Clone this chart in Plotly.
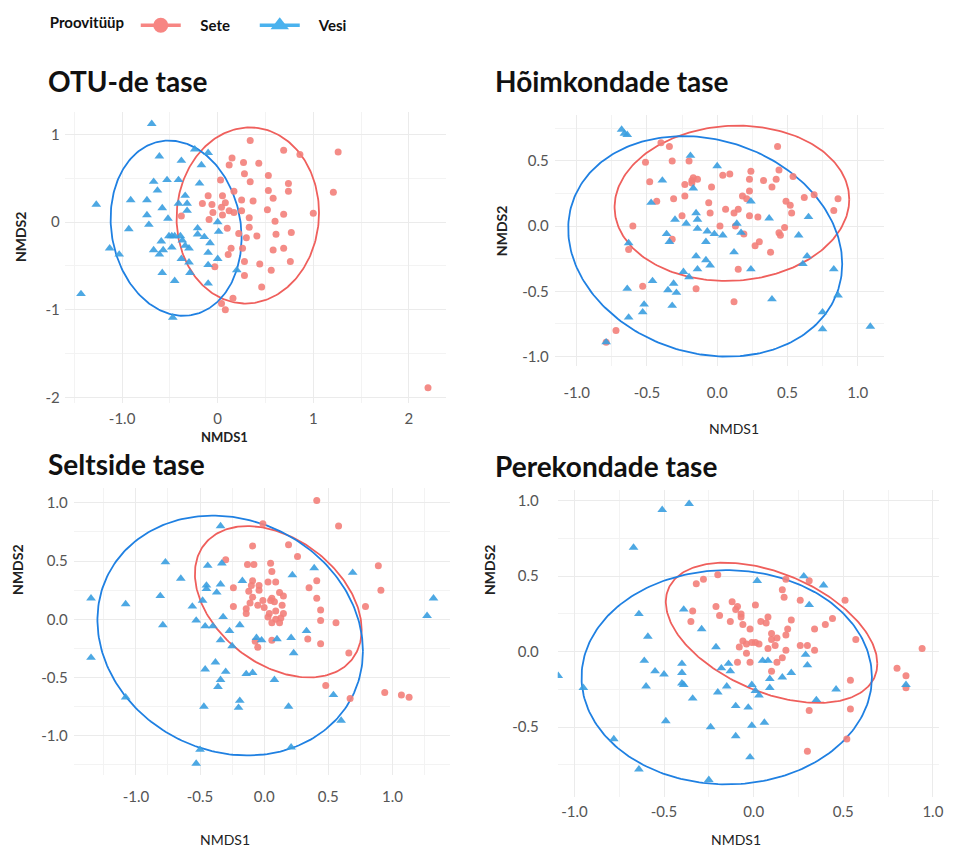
import numpy as np
import plotly.graph_objects as go

W, H = 979, 850
FONT = "Lato"

SETE_POINT = "#F37F7A"
SETE_LINE = "#EF5F5C"
VESI_POINT = "#3A9EE0"
VESI_LINE = "#1F80E2"
SETE_KEY = "#F78683"
VESI_KEY = "#4AB2EE"

# ---------------- NMDS scores (NMDS1, NMDS2) ----------------
# OTU level
otu_sete = [
    (0.34, 0.93), (0.69, 0.82), (0.86, 0.77), (1.26, 0.80), (1.21, 0.34), (1.00, 0.10),
    (0.15, 0.73), (0.12, 0.65), (0.27, 0.68), (0.43, 0.67), (0.28, 0.55), (0.53, 0.53),
    (0.03, 0.48), (0.34, 0.46), (0.74, 0.44), (0.17, 0.35), (0.53, 0.36), (0.74, 0.35),
    (-0.10, 0.30), (0.05, 0.30), (0.58, 0.27), (-0.16, 0.21), (-0.06, 0.20), (0.08, 0.22),
    (0.25, 0.25), (0.37, 0.24), (0.04, 0.17), (0.12, 0.13), (0.25, 0.13), (0.52, 0.14),
    (-0.05, 0.11), (0.05, 0.08), (0.17, 0.11), (0.69, 0.09), (-0.38, 0.07), (-0.09, 0.03),
    (0.33, 0.05), (0.60, 0.01), (0.10, -0.07), (0.33, -0.06), (0.22, -0.13), (0.41, -0.16),
    (0.61, -0.14), (0.77, -0.12), (0.30, -0.18), (0.14, -0.30), (0.26, -0.30), (0.58, -0.32),
    (0.69, -0.30), (0.11, -0.37), (0.28, -0.45), (0.44, -0.48), (0.76, -0.45), (-0.03, -0.51),
    (0.56, -0.55), (0.28, -0.61), (0.46, -0.74), (0.16, -0.87), (0.04, -0.93), (0.08, -1.00),
    (2.20, -1.89),
]
otu_vesi = [
    (-0.69, 1.12), (-1.27, 0.20), (-1.43, -0.82), (-1.13, -0.30), (-1.03, -0.37), (-0.93, -0.08),
    (-0.91, 0.25), (-0.74, 0.25), (-0.74, 0.08), (-0.72, -0.03), (-0.67, 0.46), (-0.61, 0.75),
    (-0.63, 0.36), (-0.58, 0.16), (-0.52, 0.04), (-0.53, 0.48), (-0.67, -0.32), (-0.61, -0.37),
    (-0.59, -0.22), (-0.57, -0.32), (-0.58, -0.58), (-0.51, -0.16), (-0.48, -0.16), (-0.48, -0.29),
    (-0.45, -0.16), (-0.45, -0.67), (-0.47, -1.09), (-0.41, 0.48), (-0.38, 0.70), (-0.41, 0.21),
    (-0.39, -0.16), (-0.37, -0.21), (-0.38, -0.42), (-0.34, 0.30), (-0.32, 0.21), (-0.32, 0.13),
    (-0.34, -0.27), (-0.30, -0.30), (-0.30, -0.46), (-0.29, -0.58), (-0.24, 0.83), (-0.21, -0.07),
    (-0.21, -0.14), (-0.19, 0.44), (-0.17, 0.65), (-0.14, -0.17), (-0.10, 0.79), (-0.10, -0.35),
    (-0.10, -0.49), (-0.10, -0.70), (-0.08, -0.24), (0.00, 0.00), (0.01, -0.11), (0.00, -0.42),
    (0.20, -0.55),
]

# Phylum level
phylum_sete = [
    (-0.40, 0.64), (-0.34, 0.61), (-0.51, 0.49), (-0.32, 0.50), (-0.20, 0.50), (0.43, 0.61),
    (0.04, 0.39), (0.09, 0.40), (0.24, 0.42), (0.44, 0.43), (0.54, 0.38), (-0.48, 0.34),
    (-0.23, 0.32), (-0.18, 0.35), (-0.17, 0.37), (-0.14, 0.36), (-0.18, 0.33), (-0.04, 0.30),
    (0.23, 0.36), (0.33, 0.35), (0.42, 0.36), (0.39, 0.30), (0.23, 0.27), (-0.23, 0.23),
    (-0.31, 0.21), (-0.43, 0.19), (0.18, 0.23), (0.21, 0.21), (0.62, 0.22), (0.69, 0.24),
    (0.86, 0.21), (-0.06, 0.18), (0.49, 0.19), (0.52, 0.16), (0.83, 0.12), (0.06, 0.13),
    (0.15, 0.13), (0.12, 0.10), (-0.05, 0.10), (0.53, 0.10), (-0.25, 0.08), (0.23, 0.08),
    (0.29, 0.07), (-0.60, 0.00), (0.02, 0.00), (0.13, 0.00), (0.19, -0.06), (0.48, -0.01),
    (0.44, -0.05), (0.45, -0.07), (-0.32, -0.10), (0.30, -0.12), (0.27, -0.15), (0.38, -0.20),
    (-0.63, -0.18), (0.15, -0.33), (-0.53, -0.46), (-0.15, -0.48), (0.12, -0.58), (-0.72, -0.80),
    (-0.79, -0.89),
]
phylum_vesi = [
    (-0.68, 0.74), (-0.66, 0.71), (-0.64, 0.70), (-0.19, 0.54), (0.00, 0.46), (-0.39, 0.35),
    (-0.17, 0.29), (-0.47, 0.18), (0.24, 0.19), (-0.15, 0.10), (-0.30, 0.05), (-0.14, 0.05),
    (-0.22, 0.02), (0.37, 0.06), (0.65, 0.07), (-0.14, -0.02), (0.14, 0.02), (-0.07, -0.04),
    (-0.02, -0.06), (0.04, -0.07), (0.17, -0.05), (-0.36, -0.06), (-0.34, -0.12), (-0.63, -0.13),
    (-0.08, -0.12), (0.58, -0.07), (0.12, -0.20), (-0.15, -0.23), (-0.08, -0.26), (-0.05, -0.30),
    (-0.14, -0.33), (0.64, -0.23), (0.61, -0.29), (0.24, -0.33), (-0.24, -0.35), (-0.20, -0.39),
    (0.83, -0.33), (-0.46, -0.42), (-0.31, -0.44), (-0.35, -0.49), (-0.29, -0.51), (-0.64, -0.48),
    (-0.52, -0.60), (-0.53, -0.66), (-0.32, -0.61), (0.39, -0.56), (0.86, -0.53), (-0.63, -0.70),
    (0.75, -0.66), (0.75, -0.79), (1.09, -0.77), (-0.79, -0.89),
]

# Order level
order_sete = [
    (0.41, 1.02), (0.58, 0.80), (-0.01, 0.82), (-0.09, 0.63), (0.19, 0.64), (0.26, 0.54),
    (-0.30, 0.51), (-0.13, 0.47), (-0.08, 0.47), (0.05, 0.48), (0.06, 0.41), (0.89, 0.46),
    (0.41, 0.33), (0.35, 0.27), (0.91, 0.25), (-0.24, 0.27), (-0.09, 0.33), (-0.04, 0.29),
    (0.03, 0.32), (0.09, 0.32), (-0.10, 0.29), (-0.12, 0.24), (-0.04, 0.25), (0.12, 0.23),
    (0.15, 0.20), (-0.09, 0.19), (0.41, 0.18), (0.06, 0.18), (0.08, 0.15), (0.05, 0.16),
    (-0.01, 0.16), (-0.24, 0.11), (-0.11, 0.14), (-0.05, 0.12), (0.14, 0.12), (0.79, 0.11),
    (-0.14, 0.09), (0.00, 0.10), (0.44, 0.08), (-0.14, 0.05), (0.04, 0.05), (0.09, 0.07),
    (0.15, 0.05), (0.13, 0.01), (0.03, 0.02), (0.09, 0.00), (0.06, -0.03), (0.12, -0.03),
    (0.44, -0.01), (0.56, -0.03), (-0.07, -0.19), (-0.05, -0.24), (0.06, -0.18), (0.34, -0.17),
    (0.44, -0.21), (0.66, -0.29), (0.48, -0.57), (0.67, -0.68), (0.94, -0.63), (1.07, -0.65),
    (1.13, -0.67),
]
order_vesi = [
    (-1.35, 0.18), (-1.35, -0.33), (-1.08, 0.13), (-1.08, -0.67), (-0.81, 0.20), (-0.79, -0.05),
    (-0.77, 0.49), (-0.65, 0.35), (-0.56, 0.11), (-0.53, -0.01), (-0.48, 0.16), (-0.44, 0.46),
    (-0.45, 0.29), (-0.45, 0.26), (-0.46, -0.06), (-0.46, -0.43), (-0.47, -0.75), (-0.50, -1.12),
    (-0.53, -1.24), (-0.40, -0.06), (-0.37, 0.23), (-0.38, -0.37), (-0.36, -0.58), (-0.34, 0.30),
    (-0.34, 0.80), (-0.33, 0.48), (-0.32, 0.02), (-0.34, -0.18), (-0.34, -0.52), (-0.30, -0.45),
    (-0.27, -0.10), (-0.25, -0.23), (-0.19, -0.05), (-0.19, -0.70), (-0.20, -0.76), (-0.17, 0.33),
    (-0.14, -0.47), (-0.09, -0.46), (-0.06, -0.16), (-0.02, -0.18), (0.08, -0.52), (0.10, -0.17),
    (0.21, -0.16), (0.22, 0.38), (0.23, -0.29), (0.19, -0.75), (0.21, -1.10), (0.33, -0.10),
    (0.39, 0.44), (0.54, -0.65), (0.60, -0.87), (0.69, 0.40), (1.27, 0.03), (1.32, 0.18),
]

# Family level
family_sete = [
    (-0.20, 0.51), (-0.32, 0.45), (-0.28, 0.48), (-0.34, 0.27), (-0.35, 0.20), (-0.21, 0.30),
    (-0.19, 0.24), (-0.12, 0.33), (-0.13, 0.20), (-0.10, 0.28), (-0.09, 0.30), (-0.07, 0.25),
    (-0.07, 0.23), (-0.06, 0.18), (-0.02, 0.15), (0.01, 0.31), (0.04, 0.20), (0.07, 0.19),
    (0.08, 0.23), (0.18, 0.48), (0.16, 0.41), (0.17, 0.36), (0.26, 0.34), (0.31, 0.47),
    (0.51, 0.34), (0.21, 0.21), (0.44, 0.22), (0.40, 0.18), (0.34, 0.15), (0.19, 0.15),
    (0.10, 0.12), (0.10, 0.08), (0.13, 0.09), (0.18, 0.11), (0.57, 0.08), (-0.06, 0.07),
    (-0.04, 0.05), (-0.01, 0.06), (0.01, 0.06), (0.03, 0.05), (-0.08, 0.03), (-0.04, -0.01),
    (0.08, 0.02), (0.12, 0.04), (0.18, 0.01), (0.26, 0.04), (0.30, 0.04), (0.34, 0.01),
    (-0.09, -0.07), (-0.02, -0.07), (0.13, -0.07), (0.16, -0.04), (0.10, -0.13), (0.54, -0.19),
    (0.80, -0.11), (0.85, -0.16), (0.85, -0.24), (0.94, 0.02), (0.31, -0.39), (0.54, -0.38),
    (0.52, -0.58), (0.30, -0.66),
]
family_vesi = [
    (-1.09, -0.16), (-0.95, -0.24), (-0.78, -0.58), (-0.67, 0.69), (-0.64, -0.78), (-0.64, 0.25),
    (-0.59, 0.10), (-0.61, -0.06), (-0.60, -0.23), (-0.55, -0.13), (-0.51, 0.94), (-0.50, -0.15),
    (-0.49, -0.46), (-0.40, -0.08), (-0.40, -0.14), (-0.40, -0.21), (-0.39, -0.22), (-0.39, 0.28),
    (-0.36, 0.98), (-0.34, -0.31), (-0.29, 0.15), (-0.25, -0.85), (-0.24, -0.50), (-0.21, 0.03),
    (-0.20, -0.27), (-0.18, -0.11), (-0.15, -0.23), (-0.14, -0.08), (-0.13, -0.13), (-0.10, -0.36),
    (-0.10, -0.56), (-0.03, -0.37), (-0.02, -0.70), (-0.01, -0.22), (-0.01, -0.49), (0.01, -0.26),
    (0.02, 0.47), (0.03, -0.29), (0.05, -0.06), (0.08, -0.06), (0.06, -0.47), (0.09, -0.18),
    (0.09, -0.24), (0.16, -0.17), (0.21, -0.14), (0.28, 0.50), (0.29, -0.02), (0.30, -0.09),
    (0.31, 0.31), (0.35, -0.32), (0.39, 0.44), (0.46, -0.25), (0.85, -0.22),
]

# 95% confidence ellipses: centre x, centre y, half-width, half-height, correlation
otu_ellipses = {"Sete": (0.315, 0.075, 0.745, 1.005, 0.03), "Vesi": (-0.435, -0.07, 0.685, 1.00, -0.11)}
phylum_ellipses = {"Sete": (0.105, 0.175, 0.835, 0.595, 0.05), "Vesi": (-0.085, -0.155, 0.975, 0.845, -0.16)}
order_ellipses = {"Sete": (0.11, 0.15, 0.65, 0.65, -0.37), "Vesi": (-0.265, -0.14, 1.035, 1.03, -0.13)}
family_ellipses = {"Sete": (0.10, 0.125, 0.59, 0.465, -0.44), "Vesi": (-0.15, -0.17, 0.81, 0.71, 0.0)}

groups = ["Sete", "Vesi"]


def ellipse_path(cx, cy, hw, hh, rho, n=240):
    t = np.linspace(0, 2 * np.pi, n)
    ex = cx + hw * np.cos(t)
    ey = cy + hh * (rho * np.cos(t) + np.sqrt(1 - rho ** 2) * np.sin(t))
    return ex, ey


def fx(px):
    return px / W


def fy(py):
    return 1 - py / H


panels = [
    dict(title="OTU-de tase", sete=otu_sete, vesi=otu_vesi, ell=otu_ellipses,
         box=(65, 448, 112, 404), xr=[-1.6, 2.39], yr=[-2.06, 1.26],
         xt=([-1, 0, 1, 2], ["-1.0", "0", "1", "2"]), xm=[-1.5, -0.5, 0.5, 1.5],
         yt=([-2, -1, 0, 1], ["-2", "-1", "0", "1"]), ym=[-1.5, -0.5, 0.5],
         title_pos=(48, 81), xlab=(225, 439), ylab=(20, 238), xstand=5, ystand=4, bold=True, xsize=13),
    dict(title="Hõimkondade tase", sete=phylum_sete, vesi=phylum_vesi, ell=phylum_ellipses,
         box=(557, 888, 115, 367), xr=[-1.156, 1.19], yr=[-1.07, 0.855],
         xt=([-1, -0.5, 0, 0.5, 1], ["-1.0", "-0.5", "0.0", "0.5", "1.0"]), xm=[-0.75, -0.25, 0.25, 0.75],
         yt=([-1, -0.5, 0, 0.5], ["-1.0", "-0.5", "0.0", "0.5"]), ym=[-0.75, -0.25, 0.25, 0.75],
         title_pos=(497, 81), xlab=(737, 430), ylab=(503, 232), xstand=16, ystand=5, bold=False, xsize=14),
    dict(title="Seltside tase", sete=order_sete, vesi=order_vesi, ell=order_ellipses,
         box=(74, 452, 490, 778), xr=[-1.485, 1.45], yr=[-1.34, 1.125],
         xt=([-1, -0.5, 0, 0.5, 1], ["-1.0", "-0.5", "0.0", "0.5", "1.0"]), xm=[-1.25, -0.75, -0.25, 0.25, 0.75, 1.25],
         yt=([-1, -0.5, 0, 0.5, 1], ["-1.0", "-0.5", "0.0", "0.5", "1.0"]), ym=[-1.25, -0.75, -0.25, 0.25, 0.75],
         title_pos=(48, 466), xlab=(226, 842), ylab=(18, 572), xstand=11, ystand=5, bold=False, xsize=14),
    dict(title="Perekondade tase", sete=family_sete, vesi=family_vesi, ell=family_ellipses,
         box=(560, 943, 492, 800), xr=[-1.093, 1.035], yr=[-0.965, 1.07],
         xt=([-1, -0.5, 0, 0.5, 1], ["-1.0", "-0.5", "0.0", "0.5", "1.0"]), xm=[-0.75, -0.25, 0.25, 0.75],
         yt=([-0.5, 0, 0.5, 1], ["-0.5", "0.0", "0.5", "1.0"]), ym=[-0.75, -0.25, 0.25, 0.75],
         title_pos=(497, 468), xlab=(739, 842), ylab=(492, 572), xstand=4, ystand=18, bold=False, xsize=14),
]

fig = go.Figure()
annotations = []
layout_axes = {}

for i, p in enumerate(panels, start=1):
    xa, ya = f"x{i if i > 1 else ''}", f"y{i if i > 1 else ''}"
    # ellipses first, points on top
    for g, col in zip(groups, [SETE_LINE, VESI_LINE]):
        ex, ey = ellipse_path(*p["ell"][g])
        fig.add_trace(go.Scatter(x=ex, y=ey, mode="lines", line=dict(color=col, width=1.8),
                                 xaxis=xa, yaxis=ya, showlegend=False, hoverinfo="skip"))
    for g, pts, col, sym, size in [("Sete", p["sete"], SETE_POINT, "circle", 7),
                                   ("Vesi", p["vesi"], VESI_POINT, "triangle-up", 8.5)]:
        xs, ys = zip(*pts)
        fig.add_trace(go.Scatter(x=xs, y=ys, mode="markers", name=g,
                                 marker=dict(color=col, symbol=sym, size=size, opacity=0.9,
                                             line=dict(width=0)),
                                 xaxis=xa, yaxis=ya, showlegend=False))

    x0, x1, y0, y1 = p["box"]
    tickfont = dict(family=FONT, size=15, color="#555555")
    common = dict(showgrid=True, gridcolor="#EBEBEB", gridwidth=1.1, zeroline=False,
                  showline=False, ticks="", tickfont=tickfont, tickmode="array")
    layout_axes[f"xaxis{i if i > 1 else ''}"] = dict(
        common, domain=[fx(x0), fx(x1)], range=p["xr"], anchor=ya,
        tickvals=p["xt"][0], ticktext=p["xt"][1], ticklabelstandoff=p["xstand"],
        minor=dict(tickmode="array", tickvals=p["xm"], showgrid=True, gridcolor="#F3F3F3", gridwidth=0.7, ticks=""))
    layout_axes[f"yaxis{i if i > 1 else ''}"] = dict(
        common, domain=[fy(y1), fy(y0)], range=p["yr"], anchor=xa,
        tickvals=p["yt"][0], ticktext=p["yt"][1], ticklabelstandoff=p["ystand"],
        minor=dict(tickmode="array", tickvals=p["ym"], showgrid=True, gridcolor="#F3F3F3", gridwidth=0.7, ticks=""))

    tx, ty = p["title_pos"]
    annotations.append(dict(text=f"<b>{p['title']}</b>", x=fx(tx - 2), y=fy(ty), xref="paper", yref="paper",
                            xanchor="left", yanchor="middle", showarrow=False,
                            font=dict(family=FONT, size=28, color="#111111")))
    lx, ly = p["xlab"]
    wt = "<b>NMDS1</b>" if p["bold"] else "NMDS1"
    annotations.append(dict(text=wt, x=fx(lx), y=fy(ly), xref="paper", yref="paper",
                            xanchor="center", yanchor="middle", showarrow=False,
                            font=dict(family=FONT, size=p["xsize"], color="#222222")))
    vx, vy = p["ylab"]
    annotations.append(dict(text="<b>NMDS2</b>", x=fx(vx), y=fy(vy), xref="paper", yref="paper",
                            xanchor="center", yanchor="middle", showarrow=False, textangle=-90,
                            font=dict(family=FONT, size=14, color="#222222")))

# legend entries (line + symbol, as in the key); leading spaces separate key and label
for g, col, sym, size in [("Sete", SETE_KEY, "circle", 15), ("Vesi", VESI_KEY, "triangle-up", 16)]:
    fig.add_trace(go.Scatter(x=[None], y=[None], mode="lines+markers", name="\u00a0" * 4 + g,
                             line=dict(color=col, width=3.5),
                             marker=dict(color=col, symbol=sym, size=size),
                             showlegend=True))

fig.update_layout(
    width=W, height=H,
    margin=dict(l=0, r=0, t=0, b=0),
    paper_bgcolor="white", plot_bgcolor="white",
    annotations=annotations,
    showlegend=True,
    legend=dict(orientation="h", x=fx(48), y=fy(9), xanchor="left", yanchor="top",
                title=dict(text="<b>Proovitüüp</b>\u00a0", font=dict(family=FONT, size=15, color="#111111")),
                font=dict(family=FONT, size=15, color="#111111", weight="bold"),
                itemwidth=40, entrywidth=64, entrywidthmode="pixels", bgcolor="rgba(0,0,0,0)"),
    **layout_axes,
)

fig.write_html("out.html")
